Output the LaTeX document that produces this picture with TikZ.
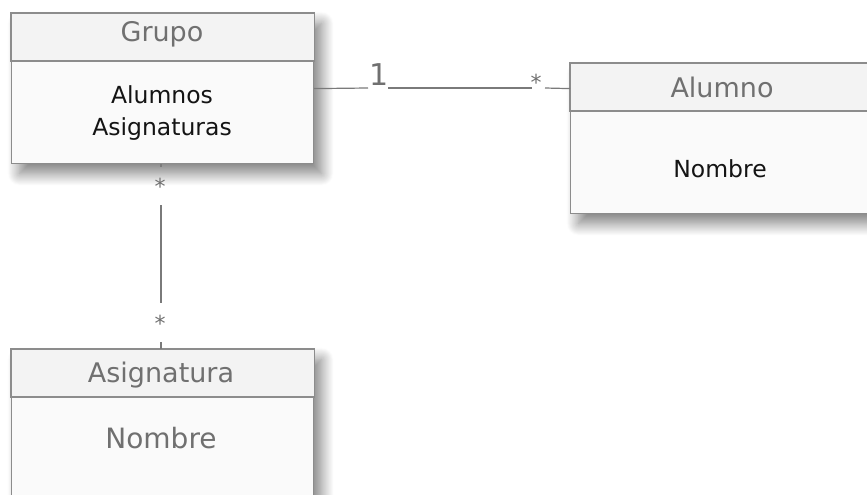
\documentclass[tikz,border=0pt]{standalone}
\usepackage{fontspec}
\setmainfont{DejaVu Sans}
\usetikzlibrary{shadows.blur}
\definecolor{bordercol}{HTML}{8C8C8C}
\definecolor{bodyfill}{HTML}{FAFAFA}
\definecolor{headfill}{HTML}{F3F3F3}
\definecolor{headtext}{HTML}{707070}
\definecolor{bodytext}{HTML}{141414}
\definecolor{linecol}{HTML}{7A7A7A}
\begin{document}
\begin{tikzpicture}[x=1pt,y=-1pt,
  classbox/.style={draw=bordercol, line width=1.2pt, fill=bodyfill, anchor=north west,
    minimum width=302pt, minimum height=150pt, inner sep=0pt,
    blur shadow={shadow xshift=8pt, shadow yshift=-10pt, shadow blur radius=12pt,
      shadow blur steps=16, shadow opacity=50}},
  headrect/.style={draw=bordercol, line width=1.2pt, fill=headfill},
  headtxt/.style={text=headtext, font=\fontsize{27}{31}\selectfont, anchor=base, inner sep=0pt},
  bodytxt/.style={text=bodytext, font=\fontsize{23.5}{27}\selectfont, anchor=base, inner sep=0pt},
  graytxt/.style={text=headtext, font=\fontsize{28}{32}\selectfont, anchor=base, inner sep=0pt},
  mult/.style={text=headtext, font=\fontsize{22}{26}\selectfont, anchor=base, inner sep=0pt},
  multbig/.style={text=headtext, font=\fontsize{30}{34}\selectfont, anchor=base, inner sep=0pt},
  conn/.style={draw=linecol, line width=1.2pt}
]
\useasboundingbox (0,0) rectangle (867,495);

% Grupo
\node[classbox] (grupo) at (11,13) {};
\draw[headrect] (grupo.north west) rectangle (grupo.north east |- 0,61);
\node[headtxt] (grupoT) at (162,42) {Grupo};
\node[bodytxt] (grupoA1) at (162,103) {Alumnos};
\node[bodytxt] (grupoA2) at (162,135) {Asignaturas};

% Alumno
\node[classbox] (alumno) at (570,63) {};
\draw[headrect] (alumno.north west) rectangle (alumno.north east |- 0,111);
\node[headtxt] (alumnoT) at (722,97) {Alumno};
\node[bodytxt] (alumnoA1) at (720,177) {Nombre};

% Asignatura
\node[classbox, minimum height=200pt] (asig) at (11,349) {};
\draw[headrect] (asig.north west) rectangle (asig.north east |- 0,397);
\node[headtxt] (asigT) at (161,382) {Asignatura};
\node[graytxt] (asigA1) at (161,448) {Nombre};

% Grupo -- Alumno
\coordinate (h1) at (368,88);
\coordinate (h2) at (388,88);
\coordinate (h3) at (532,88);
\coordinate (h4) at (545,88);
\draw[conn] (grupo.east) -- (h1);
\draw[conn] (h2) -- (h3);
\draw[conn] (h4) -- (grupo.east -| alumno.west);
\node[multbig] (m1) at (379,85) {1};
\node[mult] (m2) at (536,90) {*};

% Grupo -- Asignatura
\coordinate (v1) at (161,167);
\coordinate (v2) at (161,205);
\coordinate (v3) at (161,303);
\coordinate (v4) at (161,342);
\draw[conn] (grupo.south -| v1) -- (v1);
\draw[conn] (v2) -- (v3);
\draw[conn] (v4) -- (asig.north -| v4);
\node[mult] (m3) at (160,194) {*};
\node[mult] (m4) at (160,331) {*};
\end{tikzpicture}
\end{document}
